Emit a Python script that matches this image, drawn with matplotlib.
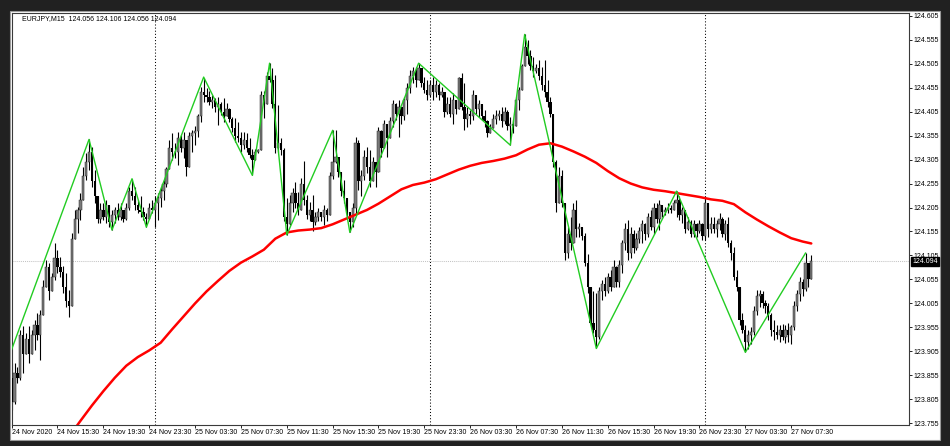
import matplotlib
matplotlib.use("Agg")
import matplotlib.pyplot as plt
from matplotlib.patches import Rectangle
import matplotlib.transforms as mtransforms
import numpy as np

plt.rcParams['font.family'] = ['Liberation Sans', 'DejaVu Sans']

# ---------------- data ----------------
symbol = "EURJPY,M15"
first_open = 123.850

highs = [
    123.880, 123.880, 123.873, 123.950, 123.957, 123.943, 123.957, 123.950, 123.970, 123.984,
    123.991, 124.054, 124.096, 124.089, 124.068, 124.130, 124.116, 124.102, 124.082, 124.068,
    124.033, 124.151, 124.200, 124.207, 124.235, 124.290, 124.318, 124.347, 124.332, 124.283,
    124.221, 124.214, 124.214, 124.221, 124.207, 124.200, 124.207, 124.214, 124.214, 124.200,
    124.214, 124.248, 124.265, 124.248, 124.221, 124.228, 124.207, 124.193, 124.214, 124.221,
    124.228, 124.235, 124.248, 124.262, 124.290, 124.346, 124.360, 124.339, 124.363, 124.356,
    124.363, 124.342, 124.363, 124.367, 124.374, 124.401, 124.457, 124.476, 124.454, 124.447,
    124.440, 124.433, 124.436, 124.426, 124.433, 124.422, 124.412, 124.394, 124.391, 124.384,
    124.363, 124.363, 124.360, 124.349, 124.328, 124.328, 124.328, 124.447, 124.447, 124.488,
    124.506, 124.495, 124.481, 124.419, 124.349, 124.330, 124.224, 124.231, 124.245, 124.259,
    124.238, 124.266, 124.301, 124.231, 124.217, 124.231, 124.196, 124.203, 124.196, 124.210,
    124.203, 124.280, 124.366, 124.367, 124.311, 124.276, 124.262, 124.221, 124.186, 124.214,
    124.353, 124.346, 124.283, 124.325, 124.332, 124.325, 124.311, 124.297, 124.373, 124.367,
    124.387, 124.367, 124.394, 124.429, 124.422, 124.429, 124.408, 124.436, 124.464, 124.492,
    124.499, 124.499, 124.506, 124.492, 124.478, 124.471, 124.471, 124.478, 124.471, 124.464,
    124.457, 124.443, 124.436, 124.436, 124.443, 124.429, 124.478, 124.485, 124.464, 124.415,
    124.408, 124.450, 124.436, 124.429, 124.415, 124.408, 124.387, 124.380, 124.401, 124.408,
    124.408, 124.415, 124.415, 124.408, 124.394, 124.387, 124.436, 124.457, 124.505, 124.566,
    124.554, 124.533, 124.519, 124.505, 124.512, 124.499, 124.512, 124.471, 124.436, 124.400,
    124.304, 124.290, 124.283, 124.186, 124.165, 124.186, 124.214, 124.221, 124.172, 124.165,
    124.151, 124.109, 124.026, 124.030, 124.026, 124.040, 124.054, 124.061, 124.068, 124.075,
    124.096, 124.082, 124.096, 124.137, 124.172, 124.179, 124.165, 124.158, 124.151, 124.165,
    124.179, 124.172, 124.193, 124.200, 124.214, 124.214, 124.221, 124.207, 124.207, 124.214,
    124.210, 124.221, 124.239, 124.228, 124.207, 124.200, 124.186, 124.179, 124.179, 124.172,
    124.179, 124.172, 124.228, 124.207, 124.186, 124.186, 124.179, 124.193, 124.186, 124.179,
    124.186, 124.137, 124.123, 124.075, 124.040, 123.985, 123.960, 123.950, 123.955, 124.000,
    124.033, 124.033, 124.030, 124.012, 124.005, 123.984, 123.970, 123.960, 123.960, 123.963,
    123.960, 123.965, 123.960, 124.010, 124.033, 124.061, 124.055, 124.110, 124.075, 124.106,
]

lows = [
    123.783, 123.795, 123.838, 123.845, 123.859, 123.901, 123.880, 123.901, 123.908, 123.929,
    123.887, 123.984, 124.040, 124.012, 124.033, 124.054, 124.068, 124.061, 124.026, 123.998,
    123.977, 124.005, 124.144, 124.151, 124.179, 124.228, 124.262, 124.283, 124.248, 124.214,
    124.172, 124.172, 124.179, 124.172, 124.165, 124.158, 124.172, 124.179, 124.179, 124.175,
    124.179, 124.200, 124.221, 124.200, 124.193, 124.186, 124.179, 124.164, 124.186, 124.193,
    124.165, 124.179, 124.207, 124.221, 124.248, 124.297, 124.304, 124.308, 124.294, 124.321,
    124.308, 124.270, 124.315, 124.321, 124.335, 124.353, 124.384, 124.426, 124.426, 124.419,
    124.412, 124.405, 124.377, 124.398, 124.384, 124.398, 124.384, 124.363, 124.342, 124.342,
    124.321, 124.328, 124.321, 124.308, 124.272, 124.315, 124.318, 124.363, 124.391, 124.433,
    124.467, 124.412, 124.318, 124.321, 124.315, 124.176, 124.148, 124.169, 124.196, 124.203,
    124.189, 124.210, 124.210, 124.182, 124.176, 124.155, 124.169, 124.176, 124.176, 124.169,
    124.176, 124.189, 124.265, 124.297, 124.269, 124.228, 124.214, 124.186, 124.153, 124.165,
    124.193, 124.241, 124.228, 124.262, 124.276, 124.248, 124.269, 124.248, 124.283, 124.311,
    124.339, 124.311, 124.360, 124.373, 124.387, 124.353, 124.380, 124.387, 124.401, 124.443,
    124.464, 124.457, 124.471, 124.457, 124.443, 124.429, 124.436, 124.429, 124.436, 124.429,
    124.436, 124.394, 124.401, 124.394, 124.380, 124.401, 124.415, 124.408, 124.367, 124.373,
    124.380, 124.387, 124.401, 124.394, 124.387, 124.373, 124.353, 124.360, 124.373, 124.380,
    124.387, 124.373, 124.380, 124.367, 124.335, 124.360, 124.380, 124.408, 124.450, 124.505,
    124.505, 124.492, 124.478, 124.485, 124.471, 124.450, 124.436, 124.415, 124.394, 124.290,
    124.196, 124.214, 124.207, 124.096, 124.100, 124.116, 124.137, 124.144, 124.144, 124.137,
    124.082, 124.026, 123.957, 123.943, 123.911, 123.930, 124.012, 124.020, 124.026, 124.030,
    124.040, 124.040, 124.040, 124.068, 124.116, 124.096, 124.100, 124.110, 124.116, 124.130,
    124.130, 124.137, 124.144, 124.158, 124.150, 124.172, 124.158, 124.186, 124.190, 124.193,
    124.193, 124.200, 124.186, 124.179, 124.172, 124.151, 124.158, 124.144, 124.144, 124.144,
    124.151, 124.137, 124.137, 124.144, 124.151, 124.151, 124.144, 124.158, 124.144, 124.137,
    124.123, 124.096, 124.054, 124.030, 123.960, 123.943, 123.903, 123.910, 123.920, 123.940,
    123.980, 123.998, 123.995, 123.984, 123.970, 123.936, 123.929, 123.930, 123.925, 123.928,
    123.922, 123.925, 123.920, 123.950, 123.990, 124.010, 124.020, 124.030, 124.040, 124.056,
]

closes = [
    123.800, 123.860, 123.850, 123.940, 123.900, 123.930, 123.900, 123.940, 123.960, 123.940,
    123.980, 124.040, 124.080, 124.030, 124.060, 124.100, 124.080, 124.070, 124.040, 124.010,
    124.000, 124.140, 124.180, 124.200, 124.220, 124.270, 124.300, 124.320, 124.260, 124.230,
    124.180, 124.200, 124.185, 124.210, 124.175, 124.190, 124.200, 124.185, 124.200, 124.180,
    124.205, 124.240, 124.230, 124.210, 124.200, 124.195, 124.185, 124.180, 124.205, 124.200,
    124.215, 124.225, 124.240, 124.255, 124.285, 124.330, 124.320, 124.320, 124.350, 124.330,
    124.345, 124.290, 124.355, 124.360, 124.365, 124.395, 124.445, 124.440, 124.435, 124.425,
    124.430, 124.415, 124.420, 124.405, 124.395, 124.410, 124.390, 124.370, 124.355, 124.350,
    124.335, 124.345, 124.330, 124.315, 124.305, 124.320, 124.325, 124.440, 124.420, 124.480,
    124.470, 124.420, 124.330, 124.340, 124.325, 124.185, 124.170, 124.215, 124.235, 124.215,
    124.200, 124.255, 124.220, 124.190, 124.200, 124.175, 124.185, 124.195, 124.185, 124.200,
    124.190, 124.270, 124.300, 124.310, 124.280, 124.240, 124.225, 124.195, 124.175, 124.205,
    124.340, 124.260, 124.270, 124.310, 124.290, 124.260, 124.300, 124.280, 124.365, 124.330,
    124.380, 124.350, 124.385, 124.420, 124.400, 124.415, 124.395, 124.430, 124.455, 124.480,
    124.490, 124.470, 124.495, 124.465, 124.450, 124.440, 124.460, 124.445, 124.460, 124.440,
    124.445, 124.405, 124.420, 124.400, 124.430, 124.410, 124.475, 124.415, 124.390, 124.400,
    124.395, 124.440, 124.410, 124.420, 124.395, 124.385, 124.360, 124.370, 124.390, 124.395,
    124.400, 124.385, 124.405, 124.375, 124.380, 124.375, 124.430, 124.450, 124.500, 124.540,
    124.520, 124.500, 124.490, 124.495, 124.480, 124.460, 124.445, 124.425, 124.400, 124.300,
    124.215, 124.270, 124.215, 124.110, 124.150, 124.130, 124.200, 124.160, 124.165, 124.145,
    124.090, 124.040, 123.965, 123.950, 123.935, 124.030, 124.045, 124.030, 124.060, 124.040,
    124.080, 124.050, 124.085, 124.130, 124.160, 124.110, 124.150, 124.120, 124.140, 124.155,
    124.170, 124.150, 124.185, 124.165, 124.205, 124.180, 124.210, 124.195, 124.200, 124.205,
    124.200, 124.215, 124.220, 124.190, 124.200, 124.160, 124.175, 124.150, 124.170, 124.155,
    124.170, 124.145, 124.215, 124.160, 124.170, 124.160, 124.170, 124.180, 124.150, 124.170,
    124.130, 124.110, 124.060, 124.040, 123.970, 123.950, 123.925, 123.940, 123.945, 123.990,
    124.020, 124.025, 124.005, 124.000, 123.980, 123.950, 123.945, 123.940, 123.950, 123.935,
    123.950, 123.940, 123.955, 124.000, 124.025, 124.050, 124.035, 124.090, 124.056, 124.094,
]

zz_bars = [0, 27, 35, 42, 47, 67, 84, 90, 96, 112, 118, 142, 174, 179, 204, 232, 256, 277]
zz_prices = [123.909, 124.347, 124.158, 124.265, 124.164, 124.477, 124.272, 124.506, 124.148,
             124.366, 124.153, 124.506, 124.335, 124.566, 123.911, 124.239, 123.903, 124.110]

ma_bars = [20, 24, 28, 32, 36, 40, 44, 48, 52, 56, 60, 64, 68, 72, 76, 80, 84, 88, 92, 96,
           100, 104, 108, 112, 116, 120, 124, 128, 132, 136, 140, 144, 148, 152, 156, 160,
           164, 168, 172, 176, 180, 184, 188, 192, 196, 200, 204, 208, 212, 216, 220, 224,
           228, 232, 236, 240, 244, 248, 252, 256, 260, 264, 268, 272, 276, 279]
ma_values = [123.727, 123.760, 123.792, 123.822, 123.850, 123.875, 123.893, 123.907, 123.923,
             123.951, 123.978, 124.005, 124.030, 124.052, 124.073, 124.090, 124.103, 124.117,
             124.140, 124.153, 124.157, 124.159, 124.162, 124.170, 124.180, 124.190, 124.200,
             124.213, 124.228, 124.243, 124.252, 124.257, 124.264, 124.274, 124.284, 124.292,
             124.298, 124.302, 124.307, 124.314, 124.326, 124.336, 124.339, 124.332, 124.322,
             124.311, 124.298, 124.281, 124.266, 124.255, 124.247, 124.242, 124.239, 124.235,
             124.231, 124.227, 124.222, 124.219, 124.212, 124.195, 124.180, 124.166, 124.153,
             124.141, 124.134, 124.130]

x_tick_bars = [0, 16, 32, 48, 64, 80, 96, 112, 128, 144, 160, 176, 192, 208, 224, 240, 256, 272]
x_tick_labels = ["24 Nov 2020", "24 Nov 15:30", "24 Nov 19:30", "24 Nov 23:30",
                 "25 Nov 03:30", "25 Nov 07:30", "25 Nov 11:30", "25 Nov 15:30",
                 "25 Nov 19:30", "25 Nov 23:30", "26 Nov 03:30", "26 Nov 07:30",
                 "26 Nov 11:30", "26 Nov 15:30", "26 Nov 19:30", "26 Nov 23:30",
                 "27 Nov 03:30", "27 Nov 07:30"]
y_ticks = [124.605, 124.555, 124.505, 124.455, 124.405, 124.355, 124.305, 124.255, 124.205,
           124.155, 124.105, 124.055, 124.005, 123.955, 123.905, 123.855, 123.805, 123.755]
day_separators = [50, 146, 242]
current_price = 124.094

# ---------------- figure ----------------
W, H = 950, 446
fig = plt.figure(figsize=(W / 100, H / 100), dpi=100, facecolor='#212121')

# white chart window (drawn behind the axes)
fig.patches.append(Rectangle((10 / W, 6 / H), 930 / W, 429 / H, transform=fig.transFigure,
                             facecolor='white', edgecolor='#9a9a9a', lw=0.8, zorder=-10))

ax = fig.add_axes([11.5 / W, 21 / H, 897.5 / W, 412.3 / H])
ax.set_zorder(5)
ax.set_facecolor('white')
ax.set_xlim(-0.05, 313.1)
ax.set_ylim(123.7514, 124.6113)

n = len(closes)
x = np.arange(n)
opens = np.array([first_open] + closes[:-1])
c = np.array(closes)
hi = np.maximum.reduce([np.array(highs), opens, c])
lo = np.minimum.reduce([np.array(lows), opens, c])

# separators and current price line
for b in day_separators:
    ax.axvline(b, color='black', lw=0.75, ls=(0, (1, 2)), zorder=1)
ax.axhline(current_price, color='#c4c4c4', lw=0.75, ls=(0, (1, 1)), zorder=1)

# candles
ax.vlines(x, lo, hi, color='black', lw=0.8, zorder=2)
bottoms = np.minimum(opens, c)
heights = np.maximum(np.abs(c - opens), 0.0015)
bull = c >= opens
ax.bar(x[bull], heights[bull], bottom=bottoms[bull], width=0.8, color='#7a7a7a',
       edgecolor='#2a2a2a', linewidth=0.35, zorder=3)
ax.bar(x[~bull], heights[~bull], bottom=bottoms[~bull], width=0.8, color='black',
       linewidth=0, zorder=3)

# moving average and zigzag
ax.plot(ma_bars, ma_values, color='#ff0000', lw=1.8, zorder=4, solid_capstyle='round')
ax.plot(zz_bars, zz_prices, color='#22cc22', lw=1.0, zorder=5)

# axes styling
for s in ax.spines.values():
    s.set_color('#3a3a3a')
    s.set_linewidth(0.8)

ax.yaxis.tick_right()
ax.set_yticks(y_ticks)
ax.set_yticklabels([f"{v:.3f}" for v in y_ticks])
ax.tick_params(axis='y', direction='out', length=2.2, width=0.6, pad=1.2,
               labelsize=5, colors='#000000')
ax.set_xticks(x_tick_bars)
ax.set_xticklabels(x_tick_labels)
ax.tick_params(axis='x', direction='out', length=2.2, width=0.6, pad=1.0,
               labelsize=5, colors='#000000')
for lbl in ax.get_xticklabels():
    lbl.set_horizontalalignment('left')

# header text
header = "{}  {:.3f} {:.3f} {:.3f} {:.3f}".format(symbol, opens[-1], hi[-1], lo[-1], c[-1])
ax.text(0.012, 0.995, header, transform=ax.transAxes, fontsize=5, color='black',
        ha='left', va='top')

# current price label
trans = mtransforms.blended_transform_factory(ax.transAxes, ax.transData)
ax.annotate(f"{current_price:.3f}", xy=(1.0, current_price), xycoords=trans,
            xytext=(2.3, -0.6), textcoords='offset points', fontsize=5, color='white',
            ha='left', va='center', annotation_clip=False,
            bbox=dict(boxstyle='square,pad=0.2', fc='black', ec='black'))

fig.savefig('out.png', dpi=100, facecolor=fig.get_facecolor())
